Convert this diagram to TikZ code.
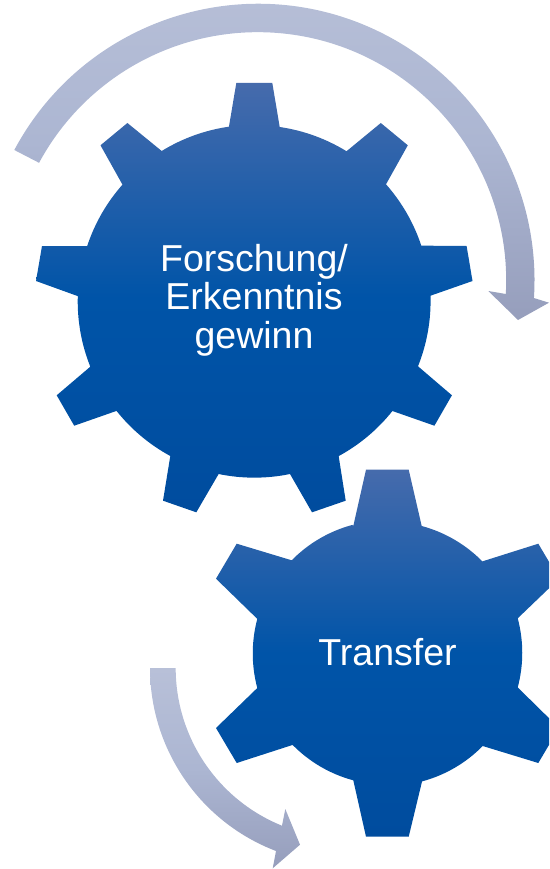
\documentclass[tikz,border=0pt]{standalone}
\usepackage{fontspec}
\setmainfont{Liberation Sans}
\definecolor{geartop}{RGB}{70,107,172}
\definecolor{gearmid}{RGB}{0,84,168}
\definecolor{gearbot}{RGB}{0,76,158}
\definecolor{arrtop}{RGB}{184,192,216}
\definecolor{arrmid}{RGB}{172,182,210}
\definecolor{arrbot}{RGB}{150,158,188}
\pgfdeclareverticalshading{gearfill}{100bp}{
  color(0bp)=(gearbot);
  color(25bp)=(gearbot);
  color(50bp)=(gearmid);
  color(75bp)=(geartop);
  color(100bp)=(geartop)}
\pgfdeclareverticalshading{arrowfill}{100bp}{
  color(0bp)=(arrbot);
  color(25bp)=(arrbot);
  color(50bp)=(arrmid);
  color(75bp)=(arrtop);
  color(100bp)=(arrtop)}
\tikzset{
  gearshape/.style={shading=gearfill,draw=none},
  arrowshape/.style={shading=arrowfill,draw=none},
  gearlabel/.style={text=white,align=center,inner sep=0pt,font=\fontsize{37.5}{38.5}\selectfont}
}
\begin{document}
\begin{tikzpicture}[x=1pt,y=-1pt]
\useasboundingbox (0,0) rectangle (549,869);
\clip (0,0) rectangle (549,869);
% curved arrow, top
\path[arrowshape] (14.3,150) arc[start angle=208.1,end angle=363.7,radius=276.4]
  -- (549,302.7) -- (518,320) -- (488.3,291) -- (505.8,294)
  arc[start angle=363.1,end angle=208.3,radius=248.4] -- cycle;
% curved arrow, bottom
\path[arrowshape] (150,668) arc[start angle=180,end angle=110.9,radius=195.9]
  -- (272.7,868.3) -- (300,844.7) -- (285.3,809) -- (282,825.7)
  arc[start angle=112,end angle=180,radius=170] -- cycle;
% large gear
\path[gearshape] (228.9,127) -- (236.3,83) -- (272.3,83) -- (279.7,127)
  arc[start angle=-81.7,end angle=-58.4,radius=176]
  -- (380.8,123) -- (407.8,145.3) -- (386,184.3)
  arc[start angle=-41.5,end angle=-18.3,radius=176]
  -- (466.6,246) -- (472.5,281) -- (430.5,295.7)
  arc[start angle=-1.7,end angle=21.8,radius=176]
  -- (451.9,395.3) -- (434.4,425.7) -- (392.4,411)
  arc[start angle=38.5,end angle=61.5,radius=176]
  -- (345.7,500.7) -- (312,512.3) -- (290,474)
  arc[start angle=78.3,end angle=101.7,radius=176]
  -- (196.3,512.3) -- (163,500.7) -- (170.3,456)
  arc[start angle=118.5,end angle=141.5,radius=176]
  -- (74.2,425.7) -- (56.7,395.3) -- (90.3,366.7)
  arc[start angle=158.2,end angle=181.7,radius=176]
  -- (36,281) -- (42,246) -- (87.2,246)
  arc[start angle=198.3,end angle=221.5,radius=176]
  -- (100.5,145.3) -- (127.4,123) -- (161.7,151)
  arc[start angle=238.4,end angle=261.7,radius=176] -- cycle;
% small gear
\path[gearshape] (353.3,526) -- (366,469.7) -- (408.7,469.7) -- (421.7,526)
  arc[start angle=-75,end angle=-44.5,radius=133.5]
  -- (538.3,543.7) -- (559,578.7) -- (517.7,618.3)
  arc[start angle=-15,end angle=15,radius=133.5]
  -- (559,728) -- (538.3,763) -- (482.7,746)
  arc[start angle=44.5,end angle=75,radius=133.5]
  -- (408.7,836.7) -- (366,836.7) -- (353.3,780.3)
  arc[start angle=105,end angle=135.5,radius=133.5]
  -- (236.7,763) -- (216,728) -- (257.3,688)
  arc[start angle=165,end angle=195,radius=133.5]
  -- (216,578.7) -- (236.7,543.7) -- (291.7,560.3)
  arc[start angle=224.5,end angle=255,radius=133.5] -- cycle;
\node[gearlabel] (research) at (254,300) {Forschung/\\Erkenntnis\\gewinn};
\node[gearlabel,anchor=base] (transfer) at (387.5,665) {Transfer};
\end{tikzpicture}
\end{document}
